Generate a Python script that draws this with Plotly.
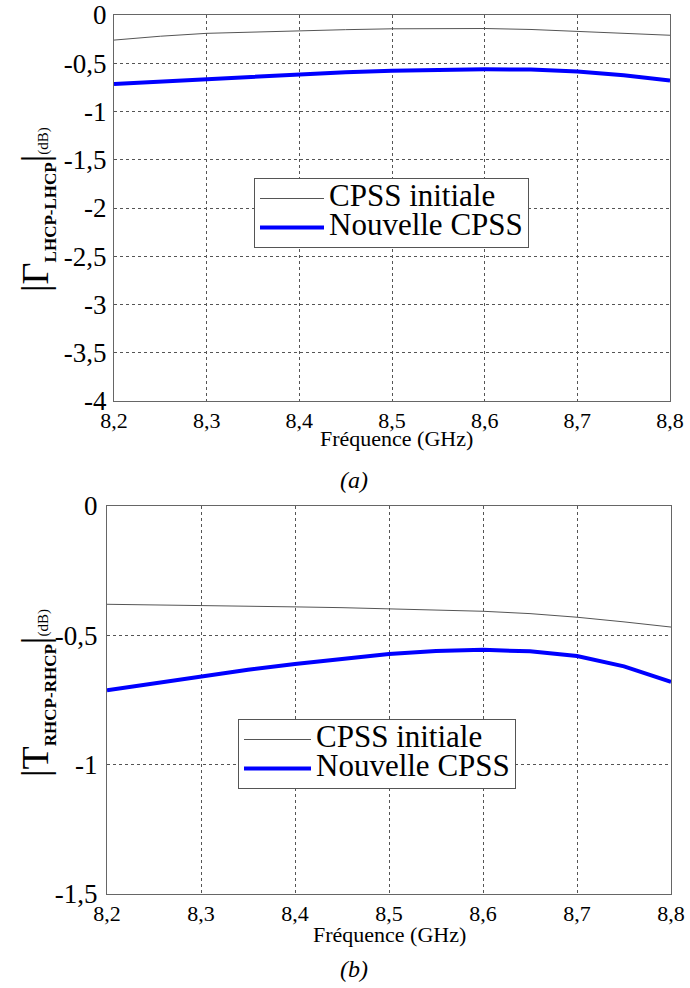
import plotly.graph_objects as go

freq = [8.2, 8.25, 8.3, 8.35, 8.4, 8.45, 8.5, 8.55, 8.6, 8.65, 8.7, 8.75, 8.8]

# (a) |Gamma LHCP-LHCP| (dB)
a_initiale = [-0.26, -0.22, -0.19, -0.175, -0.165, -0.152, -0.143, -0.14, -0.14, -0.15, -0.168, -0.19, -0.21]
a_nouvelle = [-0.715, -0.69, -0.665, -0.637, -0.61, -0.592, -0.577, -0.568, -0.563, -0.565, -0.585, -0.625, -0.68]

# (b) |T RHCP-RHCP| (dB)
b_initiale = [-0.38, -0.382, -0.384, -0.387, -0.39, -0.393, -0.397, -0.401, -0.407, -0.416, -0.43, -0.448, -0.468]
b_nouvelle = [-0.712, -0.685, -0.658, -0.633, -0.611, -0.59, -0.572, -0.561, -0.556, -0.562, -0.58, -0.62, -0.68]

series_names = ["CPSS initiale", "Nouvelle CPSS"]

x_ticks = [8.2, 8.3, 8.4, 8.5, 8.6, 8.7, 8.8]
x_ticktext = ["8,2", "8,3", "8,4", "8,5", "8,6", "8,7", "8,8"]
a_yticks = [0, -0.5, -1, -1.5, -2, -2.5, -3, -3.5, -4]
a_yticktext = ["0", "-0,5", "-1", "-1,5", "-2", "-2,5", "-3", "-3,5", "-4"]
b_yticks = [0, -0.5, -1, -1.5]
b_yticktext = ["0", "-0,5", "-1", "-1,5"]

FONT = '"Liberation Serif", "Times New Roman", Times, serif'
W, H = 690, 988


def legend_name(n):
    return "<span style='font-size:31px'>" + n + "</span>"


fig = go.Figure()
fig.add_trace(go.Scatter(x=freq, y=a_initiale, mode="lines", name=legend_name(series_names[0]),
                         line=dict(color="#555555", width=1), xaxis="x", yaxis="y", legend="legend"))
fig.add_trace(go.Scatter(x=freq, y=a_nouvelle, mode="lines", name=legend_name(series_names[1]),
                         line=dict(color="#0000FF", width=4), xaxis="x", yaxis="y", legend="legend"))
fig.add_trace(go.Scatter(x=freq, y=b_initiale, mode="lines", name=legend_name(series_names[0]),
                         line=dict(color="#555555", width=1), xaxis="x2", yaxis="y2", legend="legend2"))
fig.add_trace(go.Scatter(x=freq, y=b_nouvelle, mode="lines", name=legend_name(series_names[1]),
                         line=dict(color="#0000FF", width=4), xaxis="x2", yaxis="y2", legend="legend2"))


def px_x(p):
    return p / W


def px_y(p):
    return 1 - p / H


axis_common = dict(showline=True, mirror=True, linecolor="#666666", linewidth=1,
                   showgrid=True, gridcolor="#555555", gridwidth=1, griddash="dot",
                   zeroline=False, ticks="", automargin=False)
xtickfont = dict(family=FONT, size=22, color="black")
ytickfont = dict(family=FONT, size=27, color="black")

fig.update_layout(
    width=W, height=H, margin=dict(l=0, r=0, t=0, b=0, autoexpand=False),
    paper_bgcolor="white", plot_bgcolor="white",
    font=dict(family=FONT, color="black"),
    xaxis=dict(domain=[px_x(114), px_x(670)], anchor="y", range=[8.2, 8.8],
               tickvals=x_ticks, ticktext=x_ticktext, tickfont=xtickfont, **axis_common),
    yaxis=dict(domain=[px_y(401), px_y(15)], anchor="x", range=[-4, 0],
               tickvals=a_yticks, ticktext=a_yticktext, tickfont=ytickfont, ticklabelstandoff=1, **axis_common),
    xaxis2=dict(domain=[px_x(107), px_x(671)], anchor="y2", range=[8.2, 8.8],
                tickvals=x_ticks, ticktext=x_ticktext, tickfont=xtickfont, **axis_common),
    yaxis2=dict(domain=[px_y(894), px_y(506)], anchor="x2", range=[-1.5, 0],
                tickvals=b_yticks, ticktext=b_yticktext, tickfont=ytickfont, ticklabelstandoff=3, **axis_common),
    legend=dict(x=px_x(254), y=px_y(178), xanchor="left", yanchor="top",
                bgcolor="white", bordercolor="#555555", borderwidth=1,
                font=dict(family=FONT, size=20, color="black"), itemwidth=64, tracegroupgap=0),
    legend2=dict(x=px_x(238), y=px_y(719), xanchor="left", yanchor="top",
                 bgcolor="white", bordercolor="#555555", borderwidth=1,
                 font=dict(family=FONT, size=20, color="black"), itemwidth=67, tracegroupgap=0),
    showlegend=True,
)


def note(text, x, y, size, angle=0):
    return dict(text=text, x=px_x(x), y=px_y(y), xref="paper", yref="paper",
                xanchor="center", yanchor="middle", showarrow=False, textangle=angle,
                font=dict(family=FONT, size=size, color="black"))


ann = [
    note("Fréquence (GHz)", 396, 438, 22),
    note("Fréquence (GHz)", 390, 934, 22),
    note("<i>(a)</i>", 354, 480, 24),
    note("<i>(b)</i>", 354, 969, 24),
    note("|Γ<sub><b><span style='font-size:17px'>LHCP-LHCP</span></b></sub>|<span style='font-size:15px'>(dB)</span>",
         37, 210, 38, -90),
    note("|T<sub><b><span style='font-size:17px'>RHCP-RHCP</span></b></sub>|<span style='font-size:15px'>(dB)</span>",
         37, 693, 38, -90),
]
fig.update_layout(annotations=ann)

fig.write_html("out.html", config={"displayModeBar": False},
               post_script="document.body.style.margin='0';document.body.style.overflow='hidden';")
